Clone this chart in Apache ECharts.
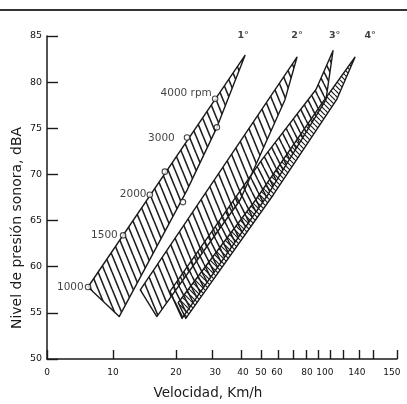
<!DOCTYPE html>
<html><head><meta charset="utf-8">
<script src="https://cdn.jsdelivr.net/npm/echarts@6/dist/echarts.min.js"></script>
<style>html,body{margin:0;padding:0;background:#fff}#c{width:407px;height:404px}</style>
</head><body><div id="c"></div>
<script>
// ---------------- data ----------------
// x axis (speed, km/h, logarithmic drawing), tick and label positions
const xMinSpeed = 4.83;
const xMaxSpeed = 228.5;
const xTickSpeeds = [4.83, 10, 20, 30, 41, 51, 62, 73, 84, 96, 109, 127, 150, 175, 228.5];
const xLabelSpeeds = [4.83, 10, 20, 30.8, 41.9, 51, 60.9, 84.8, 103.3, 146.8, 216];
const xLabelTexts = ["0", "10", "20", "30", "40", "50", "60", "80", "100", "140", "150"];
const yMin = 50, yMax = 85, yStep = 5;

// gear bands (outline vertices: speed km/h, sound level dBA)
const gearNames = ["1°", "2°", "3°", "4°"];
const band1Speeds = [7.59, 42.8, 31.4, 22.6, 10.7];
const band1Levels = [57.8, 82.9, 75.1, 68.3, 54.6];
const band2Speeds = [13.5, 75.9, 66.5, 40.5, 16.2];
const band2Levels = [57.5, 82.7, 78.1, 67.2, 54.6];
const band3Speeds = [18.7, 51.6, 93.6, 112.9, 104.5, 55.1, 21.4];
const band3Levels = [57.3, 71.6, 79.2, 83.4, 78.1, 67.8, 54.4];
const band4Speeds = [20.5, 48.0, 98.5, 143.8, 117.5, 58.5, 22.3];
const band4Levels = [56.1, 67.2, 77.5, 82.7, 78.1, 67.8, 54.4];
const gearLabelSpeeds = [41.9, 75.9, 115, 170];
const gearLabelLevel = 85.1;

// engine speed marks on 1st gear
const rpmSpeeds = [7.59, 11.17, 15.0, 17.7, 22.6, 30.8, 31.4, 21.6];
const rpmLevels = [57.8, 63.4, 67.8, 70.3, 74.0, 78.2, 75.1, 67.0];
const rpmLabels = ["1000", "1500", "2000", "", "3000", "4000 rpm", "", ""];

// ---------------- drawing ----------------
const lg = v => Math.log10(v);
const bandSpeeds = [band1Speeds, band2Speeds, band3Speeds, band4Speeds];
const bandLevels = [band1Levels, band2Levels, band3Levels, band4Levels];

function hatch(w, h, lw, color) {
  const c = document.createElement('canvas');
  c.width = w; c.height = h;
  const g = c.getContext('2d');
  g.strokeStyle = color; g.lineWidth = lw; g.lineCap = 'butt';
  for (let k = -1; k <= 1; k++) {
    g.beginPath();
    g.moveTo(k * w, 0); g.lineTo(k * w + w, h);
    g.stroke();
  }
  return { image: c, repeat: 'repeat' };
}
const patterns = [
  hatch(7, 17, 1.6, '#1e1e1e'),
  hatch(7, 17, 1.6, '#1e1e1e'),
  hatch(6, 12, 1.5, '#1e1e1e'),
  hatch(5, 5, 1.2, '#1e1e1e')
];

const labelMap = new Map(xLabelSpeeds.map((s, i) => [lg(s), xLabelTexts[i]]));
const rpmLabelDist = [1, 2, 0, 0, 9, 0, 0, 0];
const rpmLabelOffset = [[0,0],[0,0],[0,0],[0,0],[0,1],[0,-5],[0,0],[0,0]];

const font = 'DejaVu Sans';
const chart = echarts.init(document.getElementById('c'), null, { renderer: 'canvas' });
chart.setOption({
  animation: false,
  backgroundColor: '#fff',
  grid: { left: 47, right: 10, top: 36, bottom: 45, containLabel: false },
  xAxis: {
    type: 'value', min: lg(xMinSpeed), max: lg(xMaxSpeed),
    splitLine: { show: false },
    axisLine: { show: true, lineStyle: { color: '#1a1a1a', width: 1.5 } },
    axisTick: { show: true, inside: true, length: 9, customValues: xTickSpeeds.map(lg), lineStyle: { color: '#1a1a1a', width: 1.4 } },
    axisLabel: {
      customValues: xLabelSpeeds.map(lg), margin: 9, fontSize: 9, fontFamily: font, color: '#111',
      formatter: v => labelMap.has(v) ? labelMap.get(v) : ''
    }
  },
  yAxis: {
    type: 'value', min: yMin, max: yMax, interval: yStep,
    splitLine: { show: false },
    axisLine: { show: true, lineStyle: { color: '#1a1a1a', width: 1.5 } },
    axisTick: { show: true, inside: true, length: 11, lineStyle: { color: '#1a1a1a', width: 1.4 } },
    axisLabel: { margin: 5, fontSize: 9.5, fontFamily: font, color: '#111' }
  },
  graphic: [
    { type: 'line', shape: { x1: 0, y1: 10, x2: 407, y2: 10 }, style: { stroke: '#333', lineWidth: 2 } },
    { type: 'text', x: 17, y: 228, rotation: Math.PI / 2,
      style: { text: 'Nivel de presión sonora, dBA', font: '14px "DejaVu Sans"', fill: '#1a1a1a', align: 'center', verticalAlign: 'middle' } },
    { type: 'text', x: 208, y: 393,
      style: { text: 'Velocidad, Km/h', font: '13.5px "DejaVu Sans"', fill: '#1a1a1a', align: 'center', verticalAlign: 'middle' } }
  ],
  series: [
    {
      type: 'custom',
      data: gearNames.map((n, i) => [i]),
      renderItem: (params, api) => {
        const i = api.value(0);
        const pts = bandSpeeds[i].map((s, k) => api.coord([lg(s), bandLevels[i][k]]));
        return { type: 'polygon', shape: { points: pts },
          style: { fill: patterns[i], stroke: '#1a1a1a', lineWidth: 1.4, lineJoin: 'round' } };
      },
      z: 2
    },
    {
      type: 'scatter', clip: false, symbol: 'circle', symbolSize: 5.5,
      itemStyle: { color: '#fff', borderColor: '#1a1a1a', borderWidth: 1.1 },
      data: rpmSpeeds.map((s, i) => ({
        value: [lg(s), rpmLevels[i]],
        label: { show: rpmLabels[i] !== '', formatter: rpmLabels[i], position: 'left',
          distance: rpmLabelDist[i], offset: rpmLabelOffset[i], fontSize: 10.5, fontFamily: font, color: '#111' }
      })),
      z: 5
    },
    {
      type: 'scatter', clip: false, symbolSize: 0,
      data: gearLabelSpeeds.map((s, i) => ({ value: [lg(s), gearLabelLevel], name: gearNames[i] })),
      label: { show: true, position: 'inside', formatter: p => p.name, fontSize: 9.5, fontFamily: font, color: '#111', fontWeight: 'bold' },
      z: 5
    }
  ]
});
</script>
</body></html>
